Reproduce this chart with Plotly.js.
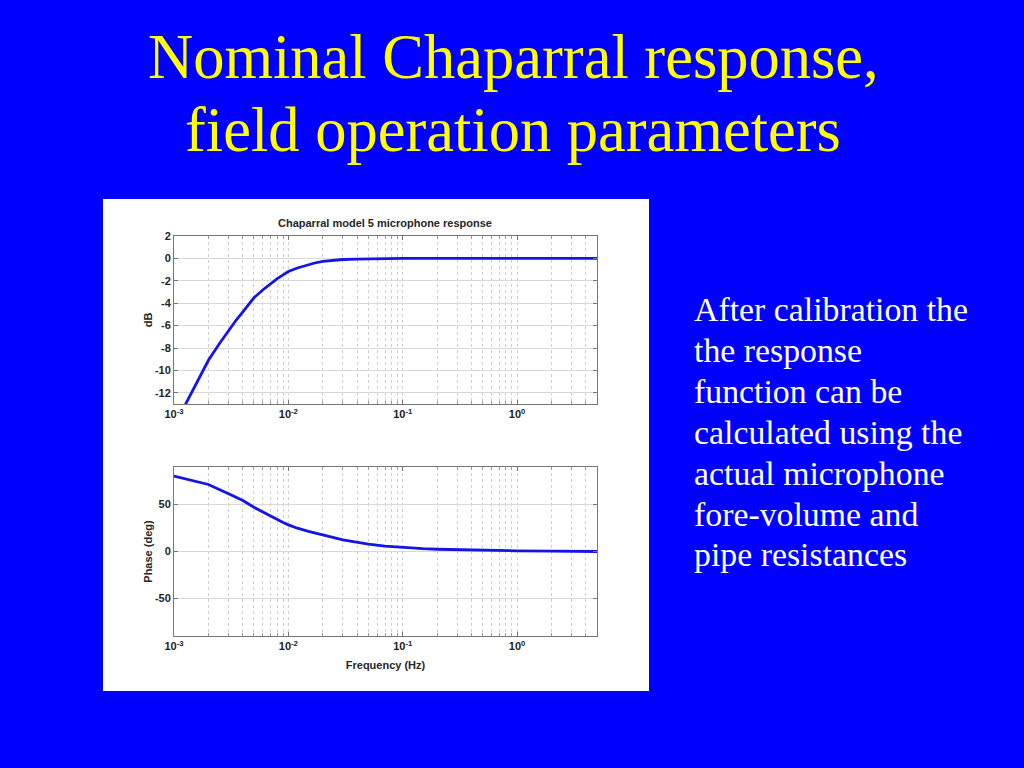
<!DOCTYPE html>
<html>
<head>
<meta charset="utf-8">
<script src="https://cdn.plot.ly/plotly-3.0.1.min.js"></script>
<style>
html,body{margin:0;padding:0;background:#0000FF;}
#chart{width:1024px;height:768px;}
</style>
</head>
<body>
<div id="chart"></div>
<script>
// ---- data ----
const magFreq = [0.001, 0.002, 0.0025, 0.003, 0.0035, 0.004, 0.0045, 0.005, 0.006, 0.007, 0.008, 0.009, 0.01, 0.012, 0.0136, 0.015, 0.017, 0.02, 0.025, 0.03, 0.04, 0.05, 0.07, 0.1, 0.2, 0.5, 1, 2, 5];
const magDb   = [-15.0, -9.1, -7.6, -6.42, -5.5, -4.78, -4.1, -3.52, -2.8, -2.22, -1.8, -1.47, -1.17, -0.86, -0.68, -0.55, -0.41, -0.27, -0.16, -0.1, -0.06, -0.03, -0.01, 0, 0, 0, 0, 0, 0];

const phaseFreq = [0.001, 0.002, 0.003, 0.004, 0.005, 0.006, 0.007, 0.008, 0.009, 0.01, 0.012, 0.015, 0.017, 0.02, 0.025, 0.03, 0.04, 0.05, 0.07, 0.1, 0.15, 0.2, 0.3, 0.5, 1, 2, 5];
const phaseDeg  = [80.4, 71.4, 61.4, 54.3, 47.1, 42, 37.2, 33.6, 30.8, 28.4, 24.8, 21.4, 19.6, 17.6, 14.8, 12.5, 9.8, 7.9, 5.7, 4.2, 3.0, 2.4, 1.8, 1.2, 0.7, 0.4, 0];

const decadeVals = [0.001, 0.01, 0.1, 1];
const decadeText = ['10<sup>-3</sup>', '10<sup>-2</sup>', '10<sup>-1</sup>', '10<sup>0</sup>'];
const dbTickVals = [2, 0, -2, -4, -6, -8, -10, -12];
const dbTickText = ['2', '0', '-2', '-4', '-6', '-8', '-10', '-12'];
const phTickVals = [50, 0, -50];
const phTickText = ['50', '0', '-50'];
const minorVals = [];
decadeVals.forEach(d => { for (let m = 2; m <= 9; m++) minorVals.push(d * m); });

const slideTitle = ['Nominal Chaparral response,', 'field operation parameters'];
const chartTitle = 'Chaparral model 5 microphone response';
const sideText = ['After calibration the', 'the response', 'function can be', 'calculated using the',
                  'actual microphone', 'fore-volume and', 'pipe resistances'];

// ---- layout helpers ----
const W = 1024, H = 768;
const px = x => x / W;
const py = y => 1 - y / H;
const tickFont = {family: 'Liberation Sans, Arial, sans-serif', size: 11, color: '#222', weight: 'bold'};
const titleFont = {family: 'Liberation Sans, Arial, sans-serif', size: 11, color: '#262626', weight: 'bold'};

function xAxis(domain, anchor, showTitle) {
  const ax = {
    type: 'log', domain: domain, anchor: anchor,
    range: [-3, Math.log10(5)],
    tickmode: 'array', tickvals: decadeVals, ticktext: decadeText,
    tickfont: tickFont, ticks: 'inside', ticklen: 4, tickcolor: '#777',
    showline: true, mirror: 'ticks', linecolor: '#777', linewidth: 1,
    showgrid: true, gridcolor: '#cfcfcf', griddash: 'dot', gridwidth: 1,
    minor: {tickvals: minorVals, showgrid: true, gridcolor: '#cfcfcf', griddash: 'dot', gridwidth: 1,
            ticks: 'inside', ticklen: 3, tickcolor: '#999'},
    zeroline: false, fixedrange: true
  };
  if (showTitle) ax.title = {text: 'Frequency (Hz)', font: titleFont, standoff: 10};
  return ax;
}
function yAxis(domain, anchor, range, vals, texts, title) {
  return {
    domain: domain, anchor: anchor, range: range,
    tickmode: 'array', tickvals: vals, ticktext: texts,
    tickfont: tickFont, ticks: 'inside', ticklen: 4, tickcolor: '#777',
    showline: true, mirror: 'ticks', linecolor: '#777', linewidth: 1,
    showgrid: true, gridcolor: '#d9d9d9', gridwidth: 1,
    zeroline: false, fixedrange: true,
    title: {text: title, font: titleFont, standoff: 0}
  };
}

const lineStyle = {color: '#1414E6', width: 2.8};
const traces = [
  {x: magFreq, y: magDb, xaxis: 'x', yaxis: 'y', type: 'scatter', mode: 'lines', line: lineStyle, hoverinfo: 'skip'},
  {x: phaseFreq, y: phaseDeg, xaxis: 'x2', yaxis: 'y2', type: 'scatter', mode: 'lines', line: lineStyle, hoverinfo: 'skip'}
];

const annotations = [];
const serif = 'Liberation Serif, Times New Roman, serif';
[57, 130].forEach((yc, i) => annotations.push({
  xref: 'paper', yref: 'paper', x: px(513), y: py(yc), xanchor: 'center', yanchor: 'middle',
  text: slideTitle[i], showarrow: false, font: {family: serif, size: 62.5, color: '#FFFF00'}
}));
sideText.forEach((t, i) => annotations.push({
  xref: 'paper', yref: 'paper', x: px(692), y: py(310 + i * 40.8), xanchor: 'left', yanchor: 'middle',
  text: t, showarrow: false, font: {family: serif, size: 33.8, color: '#FFFFFF'}
}));
annotations.push({
  xref: 'paper', yref: 'paper', x: px(385), y: py(223), xanchor: 'center', yanchor: 'middle',
  text: chartTitle, showarrow: false, font: titleFont
});

const layout = {
  width: W, height: H,
  margin: {l: 0, r: 0, t: 0, b: 0},
  paper_bgcolor: '#0000FF', plot_bgcolor: '#FFFFFF',
  showlegend: false,
  xaxis:  xAxis([px(174), px(597)], 'y', false),
  yaxis:  yAxis([py(404), py(236)], 'x', [-13, 2], dbTickVals, dbTickText, 'dB'),
  xaxis2: xAxis([px(174), px(597)], 'y2', true),
  yaxis2: yAxis([py(636), py(467)], 'x2', [-90, 90], phTickVals, phTickText, 'Phase (deg)'),
  shapes: [{type: 'rect', xref: 'paper', yref: 'paper', layer: 'below',
            x0: px(103), x1: px(649), y0: py(691), y1: py(199),
            fillcolor: '#FFFFFF', line: {width: 0}}],
  annotations: annotations
};

Plotly.newPlot('chart', traces, layout, {staticPlot: true, displayModeBar: false});
</script>
</body>
</html>
